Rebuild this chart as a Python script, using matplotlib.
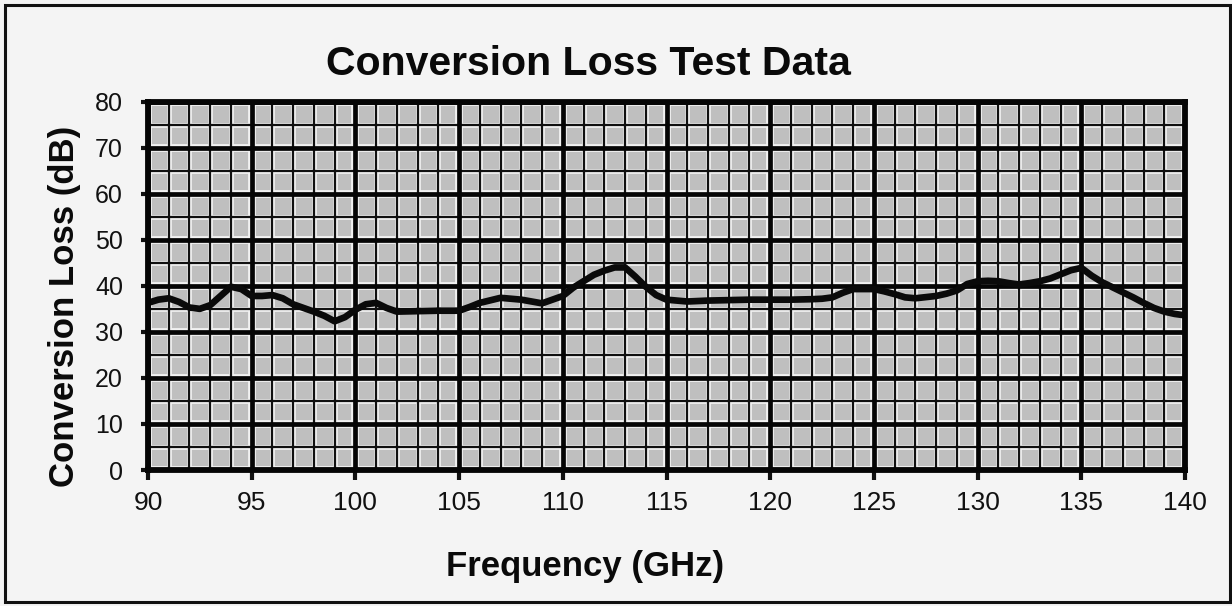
import matplotlib
matplotlib.use("Agg")
import matplotlib.pyplot as plt
from matplotlib.patches import Rectangle
from matplotlib.ticker import MultipleLocator

# ---- data ----
freq_ghz = [90, 90.5, 91, 91.5, 92, 92.5, 93, 93.5, 94, 94.5, 95, 95.5, 96, 96.5,
            97, 97.5, 98, 98.5, 99, 99.5, 100, 100.5, 101, 101.5, 102, 103, 104,
            105, 105.5, 106, 107, 108, 109, 110, 110.5, 111, 111.5, 112, 112.5,
            113, 113.5, 114, 114.5, 115, 116, 117, 118, 119, 120, 121, 122, 122.5,
            123, 123.5, 124, 125, 125.5, 126, 126.5, 127, 128, 128.5, 129, 129.5,
            130, 130.5, 131, 131.5, 132, 132.5, 133, 133.5, 134, 134.5, 135, 135.5,
            136, 136.5, 137, 137.5, 138, 138.5, 139, 139.5, 140]
loss_db = [36.3, 37.0, 37.3, 36.5, 35.3, 35.0, 35.8, 37.8, 39.8, 39.3, 37.8, 37.8,
           38.0, 37.3, 36.0, 35.2, 34.4, 33.5, 32.3, 33.2, 34.8, 36.0, 36.3, 35.2,
           34.4, 34.5, 34.6, 34.6, 35.4, 36.3, 37.4, 37.0, 36.2, 37.8, 39.6, 41.0,
           42.4, 43.3, 44.0, 44.0, 42.0, 39.8, 38.0, 37.0, 36.6, 36.8, 36.9, 37.0,
           37.0, 37.0, 37.1, 37.2, 37.5, 38.5, 39.3, 39.3, 38.8, 38.2, 37.5, 37.3,
           37.8, 38.3, 39.0, 40.4, 41.0, 41.1, 41.0, 40.6, 40.3, 40.6, 41.0, 41.6,
           42.5, 43.4, 43.9, 42.2, 40.8, 39.7, 38.6, 37.5, 36.3, 35.2, 34.4, 33.9,
           33.6]
x_ticks = [90, 95, 100, 105, 110, 115, 120, 125, 130, 135, 140]
y_ticks = [0, 10, 20, 30, 40, 50, 60, 70, 80]

title = "Conversion Loss Test Data"
x_label = "Frequency (GHz)"
y_label = "Conversion Loss (dB)"

FONT = ["Liberation Sans", "DejaVu Sans"]
plt.rcParams["font.family"] = FONT

fig = plt.figure(figsize=(12.32, 6.06), dpi=100, facecolor="#f4f4f4")
ax = fig.add_axes([0.1201, 0.2244, 0.8418, 0.6078])
ax.set_facecolor("#bfbfbf")

ax.set_xlim(90, 140)
ax.set_ylim(0, 80)
ax.set_xticks(x_ticks)
ax.set_yticks(y_ticks)
ax.xaxis.set_minor_locator(MultipleLocator(1))
ax.yaxis.set_minor_locator(MultipleLocator(5))

# grid drawn by hand: white halos first, then black lines on top
xmin_locs = ax.xaxis.get_minorticklocs()
ymin_locs = ax.yaxis.get_minorticklocs()
xmaj_locs = ax.get_xticks()
ymaj_locs = ax.get_yticks()
HALO = "#f2f2f2"
for v in xmin_locs:
    ax.axvline(v, color=HALO, linewidth=3.4, zorder=0.6)
for v in ymin_locs:
    ax.axhline(v, color=HALO, linewidth=3.4, zorder=0.6)
for v in xmaj_locs:
    ax.axvline(v, color=HALO, linewidth=5.6, zorder=0.6)
for v in ymaj_locs:
    ax.axhline(v, color=HALO, linewidth=5.6, zorder=0.6)
for v in xmin_locs:
    ax.axvline(v, color="#101010", linewidth=1.6, zorder=1)
for v in ymin_locs:
    ax.axhline(v, color="#101010", linewidth=1.6, zorder=1)
for v in xmaj_locs:
    ax.axvline(v, color="#050505", linewidth=3.4, zorder=1.5)
for v in ymaj_locs:
    ax.axhline(v, color="#050505", linewidth=3.4, zorder=1.5)

for s in ax.spines.values():
    s.set_linewidth(4.2)
    s.set_color("#050505")
    s.set_zorder(5)

ax.tick_params(axis="both", which="minor", length=0)
ax.tick_params(axis="x", which="major", direction="out", length=7, width=3,
               labelsize=19, pad=8, colors="#111111")
ax.tick_params(axis="y", which="major", direction="out", length=5, width=3,
               labelsize=18, pad=13, colors="#111111")

ax.plot(freq_ghz, loss_db, color="#0a0a0a", linewidth=4.8,
        solid_joinstyle="round", solid_capstyle="round", zorder=4)

fig.text(0.478, 0.894, title, ha="center", va="center", fontsize=29.5,
         fontweight="bold", color="#0a0a0a")
fig.text(0.475, 0.066, x_label, ha="center", va="center", fontsize=25,
         fontweight="bold", color="#0a0a0a")
fig.text(0.052, 0.495, y_label, ha="center", va="center", rotation=90,
         fontsize=25, fontweight="bold", color="#0a0a0a")

frame = Rectangle((5 / 1232, 4 / 606), 1225 / 1232, 597 / 606,
                  transform=fig.transFigure, fill=False, edgecolor="#111111",
                  linewidth=2.2)
fig.patches.append(frame)

fig.savefig("out.png", dpi=100, facecolor=fig.get_facecolor())
